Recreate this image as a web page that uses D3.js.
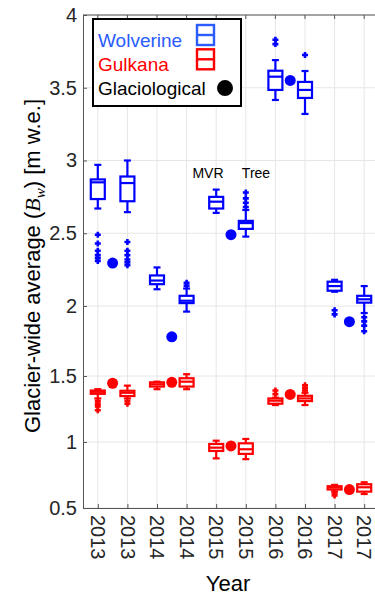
<!DOCTYPE html>
<html>
<head>
<meta charset="utf-8">
<script src="https://cdn.jsdelivr.net/npm/d3@7"></script>
<style>
  body { margin: 0; background: #fff; }
  text { font-family: "Liberation Sans", Arial, Helvetica, sans-serif; }
</style>
</head>
<body>
<svg id="chart" width="375" height="595"></svg>
<script>
// category labels along x (MVR / Tree pair per year)
const years = ["2013", "2013", "2014", "2014", "2015", "2015", "2016", "2016", "2017", "2017"];
const yTicks = [0.5, 1, 1.5, 2, 2.5, 3, 3.5, 4];

// Wolverine box stats
const wolvLo  = [2.67, 2.645, 2.115, 1.96, 2.64, 2.477, 3.416, 3.32, 2.098, 1.95];
const wolvQ1  = [2.735, 2.72, 2.15, 2.02, 2.67, 2.53, 3.485, 3.43, 2.105, 2.023];
const wolvMed = [2.85, 2.845, 2.175, 2.036, 2.717, 2.57, 3.576, 3.485, 2.137, 2.046];
const wolvQ3  = [2.87, 2.89, 2.21, 2.07, 2.75, 2.585, 3.617, 3.54, 2.167, 2.07];
const wolvHi  = [2.97, 3.0, 2.265, 2.12, 2.8, 2.66, 3.69, 3.615, 2.18, 2.137];
const wolvOut = [
  [2.49, 2.43, 2.38, 2.35, 2.33, 2.31],
  [2.44, 2.38, 2.35, 2.32, 2.3, 2.28],
  [],
  [2.14, 2.16],
  [],
  [2.68, 2.71, 2.74, 2.78],
  [3.8, 3.83],
  [3.725],
  [1.97, 1.94],
  [1.92, 1.89, 1.86, 1.82]
];

// Gulkana box stats
const gulkLo  = [1.33, 1.33, 1.4, 1.4, 0.876, 0.87, 1.28, 1.28, 0.625, 0.606];
const gulkQ1  = [1.365, 1.348, 1.42, 1.42, 0.932, 0.91, 1.29, 1.31, 0.64, 0.624];
const gulkMed = [1.38, 1.373, 1.437, 1.457, 0.957, 0.945, 1.313, 1.33, 0.655, 0.657];
const gulkQ3  = [1.39, 1.388, 1.452, 1.483, 0.985, 0.99, 1.33, 1.35, 0.665, 0.68];
const gulkHi  = [1.4, 1.427, 1.457, 1.513, 1.01, 1.023, 1.335, 1.373, 0.675, 0.695];
const gulkOut = [
  [1.31, 1.29, 1.27, 1.24],
  [1.31, 1.29],
  [],
  [],
  [],
  [],
  [1.363, 1.39],
  [1.39, 1.41, 1.43],
  [0.61, 0.595],
  []
];

// glaciological values, plotted between each pair
const glacPos  = [1.5, 3.5, 5.5, 7.5, 9.5];
const glacWolv = [2.295, 1.78, 2.49, 3.55, 1.888];
const glacGulk = [1.445, 1.452, 0.97, 1.36, 0.64];

const blue = "#0000ff";
const red = "#ff0000";
const legendBlue = "#2a5cff";
const axisColor = "#262626";
const gridColor = "#e6e6e6";

const svg = d3.select("#chart");

const x = d3.scaleLinear().domain([0.5, 10.5]).range([83, 379]);
const y = d3.scaleLinear()
  .domain([0.5, 1.5, 2, 4])
  .range([508, 376, 306, 15]);

// grid
const grid = svg.append("g");
grid.selectAll("line.gx")
  .data(d3.range(1, 11))
  .join("line")
  .attr("x1", d => x(d)).attr("x2", d => x(d))
  .attr("y1", y(4)).attr("y2", y(0.5))
  .attr("stroke", gridColor).attr("stroke-width", 1);
grid.selectAll("line.gy")
  .data(yTicks)
  .join("line")
  .attr("x1", x(0.5)).attr("x2", 375)
  .attr("y1", d => y(d)).attr("y2", d => y(d))
  .attr("stroke", gridColor).attr("stroke-width", 1);

// axes
const yAxis = svg.append("g")
  .attr("transform", "translate(" + x(0.5) + ",0)")
  .call(d3.axisLeft(y).tickValues(yTicks).tickSize(-4).tickPadding(6)
    .tickFormat(d3.format("")));
yAxis.select(".domain").attr("stroke", "#555").attr("stroke-width", 1);
yAxis.selectAll(".tick line").attr("stroke", "#555");
yAxis.selectAll("text").attr("fill", axisColor).style("font-size", "20px");

const xAxis = svg.append("g")
  .attr("transform", "translate(0," + y(0.5) + ")")
  .call(d3.axisBottom(x).tickValues(d3.range(1, 11)).tickSize(-4)
    .tickFormat(d => years[d - 1]));
xAxis.select(".domain").attr("stroke", "#555").attr("stroke-width", 1);
xAxis.selectAll(".tick line").attr("stroke", "#555");
xAxis.selectAll("text")
  .attr("fill", axisColor)
  .style("font-size", "20px")
  .attr("text-anchor", "start")
  .attr("x", 0).attr("y", 0)
  .attr("dy", "0.36em")
  .attr("transform", "translate(0,7) rotate(90)");

// top border with ticks
svg.append("line")
  .attr("x1", x(0.5)).attr("x2", 375)
  .attr("y1", y(4)).attr("y2", y(4))
  .attr("stroke", "#555").attr("stroke-width", 1);
svg.selectAll("line.topTick")
  .data(d3.range(1, 11))
  .join("line")
  .attr("x1", d => x(d)).attr("x2", d => x(d))
  .attr("y1", y(4)).attr("y2", y(4) + 4)
  .attr("stroke", "#555");

// boxplots: whiskers, caps, box, median and "+" outliers
function drawBoxSet(lo, q1, med, q3, hi, outs, color) {
  const g = svg.append("g")
    .attr("stroke", color).attr("stroke-width", 2.2).attr("fill", "none");
  const hw = 7, cap = 3.5;
  years.forEach((yr, i) => {
    const cx = x(i + 1);
    g.append("line").attr("x1", cx).attr("x2", cx)
      .attr("y1", y(hi[i])).attr("y2", y(q3[i]));
    g.append("line").attr("x1", cx).attr("x2", cx)
      .attr("y1", y(q1[i])).attr("y2", y(lo[i]));
    g.append("line").attr("x1", cx - cap).attr("x2", cx + cap)
      .attr("y1", y(hi[i])).attr("y2", y(hi[i]));
    g.append("line").attr("x1", cx - cap).attr("x2", cx + cap)
      .attr("y1", y(lo[i])).attr("y2", y(lo[i]));
    g.append("rect")
      .attr("x", cx - hw).attr("width", hw * 2)
      .attr("y", y(q3[i])).attr("height", y(q1[i]) - y(q3[i]))
      .attr("fill", "#fff");
    g.append("line").attr("x1", cx - hw).attr("x2", cx + hw)
      .attr("y1", y(med[i])).attr("y2", y(med[i]));
    outs[i].forEach(v => {
      g.append("path")
        .attr("stroke-width", 2.6)
        .attr("d", "M" + (cx - 3) + "," + y(v) + "h6M" + cx + "," + (y(v) - 3) + "v6");
    });
  });
}

drawBoxSet(wolvLo, wolvQ1, wolvMed, wolvQ3, wolvHi, wolvOut, blue);
drawBoxSet(gulkLo, gulkQ1, gulkMed, gulkQ3, gulkHi, gulkOut, red);

// glaciological dots
svg.append("g").selectAll("circle")
  .data(glacPos)
  .join("circle")
  .attr("cx", d => x(d))
  .attr("cy", (d, i) => y(glacWolv[i]))
  .attr("r", 5.5)
  .attr("fill", blue);
svg.append("g").selectAll("circle")
  .data(glacPos)
  .join("circle")
  .attr("cx", d => x(d))
  .attr("cy", (d, i) => y(glacGulk[i]))
  .attr("r", 5.5)
  .attr("fill", red);

// MVR / Tree annotations
svg.append("text").attr("x", 208).attr("y", 178)
  .attr("text-anchor", "middle").style("font-size", "14px").text("MVR");
svg.append("text").attr("x", 256).attr("y", 178)
  .attr("text-anchor", "middle").style("font-size", "14px").text("Tree");

// axis labels
svg.append("text")
  .attr("x", x(5.5) - 3).attr("y", 591)
  .attr("text-anchor", "middle")
  .attr("fill", "#000")
  .style("font-size", "22px")
  .text("Year");

const yLabel = svg.append("text")
  .attr("transform", "translate(40,266) rotate(-90)")
  .attr("text-anchor", "middle")
  .attr("fill", "#000")
  .style("font-size", "22px");
yLabel.append("tspan").text("Glacier-wide average (");
yLabel.append("tspan").style("font-style", "italic")
  .style("font-family", "'Liberation Serif', 'Times New Roman', serif").text("B");
yLabel.append("tspan").style("font-style", "italic")
  .style("font-family", "'Liberation Serif', 'Times New Roman', serif")
  .style("font-size", "15px").attr("dy", "5").text("w");
yLabel.append("tspan").attr("dy", "-5").text(") [m w.e.]");

// legend
const legend = svg.append("g");
legend.append("rect")
  .attr("x", 93).attr("y", 19).attr("width", 148).attr("height", 87)
  .attr("fill", "#fff").attr("stroke", "#000").attr("stroke-width", 2);
const legendItems = [
  { label: "Wolverine", color: legendBlue },
  { label: "Gulkana", color: red },
  { label: "Glaciological", color: "#000" }
];
legendItems.forEach((d, i) => {
  const by = 46.5 + i * 24.3;
  legend.append("text")
    .attr("x", 98).attr("y", by)
    .attr("fill", d.color)
    .style("font-size", "19px")
    .text(d.label);
  if (i < 2) {
    legend.append("rect")
      .attr("x", 197).attr("y", by - 21.5).attr("width", 17).attr("height", 20)
      .attr("fill", "none").attr("stroke", d.color).attr("stroke-width", 2.4);
    legend.append("line")
      .attr("x1", 197).attr("x2", 214)
      .attr("y1", by - 11.5).attr("y2", by - 11.5)
      .attr("stroke", d.color).attr("stroke-width", 2.4);
  } else {
    legend.append("circle")
      .attr("cx", 225).attr("cy", by - 7).attr("r", 8)
      .attr("fill", "#000");
  }
});
</script>
</body>
</html>
